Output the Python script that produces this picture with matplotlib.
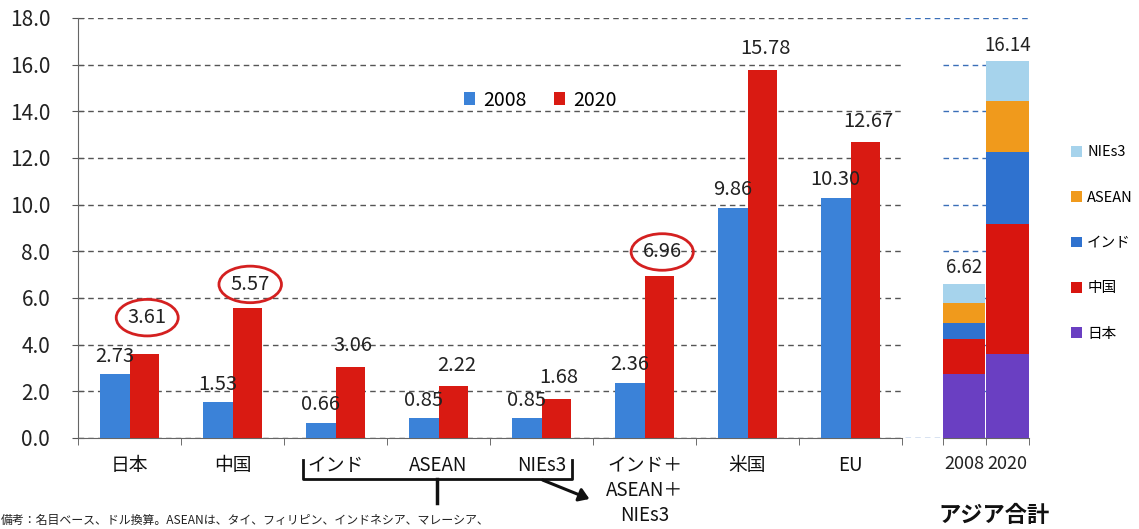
import matplotlib.pyplot as plt
from matplotlib.lines import Line2D
from matplotlib.patches import FancyArrowPatch
import numpy as np

plt.rcParams['font.family'] = ['Noto Sans CJK JP', 'DejaVu Sans']

# data
categories = ["日本", "中国", "インド", "ASEAN", "NIEs3", "インド＋\nASEAN＋\nNIEs3", "米国", "EU"]
v2008 = [2.73, 1.53, 0.66, 0.85, 0.85, 2.36, 9.86, 10.30]
v2020 = [3.61, 5.57, 3.06, 2.22, 1.68, 6.96, 15.78, 12.67]
circled = ["日本", "中国", "インド＋\nASEAN＋\nNIEs3"]

asia_parts = ["日本", "中国", "インド", "ASEAN", "NIEs3"]
asia_2008 = [2.73, 1.53, 0.66, 0.85, 0.85]
asia_2020 = [3.61, 5.57, 3.06, 2.22, 1.68]
asia_years = ["2008", "2020"]
yticks = [0, 2, 4, 6, 8, 10, 12, 14, 16, 18]

BLUE = "#3b82d8"
RED = "#d91a12"
part_colors = ["#6a3fc2", "#d8150f", "#2f72cf", "#f09a1c", "#a6d3ec"]

W, H = 1139, 529
fig = plt.figure(figsize=(W / 100, H / 100), dpi=100)


def box(x0, y0, x1, y1):
    return [x0 / W, 1 - y1 / H, (x1 - x0) / W, (y1 - y0) / H]


def fig_xy(x, y):
    return x / W, 1 - y / H


# ---- main chart
ax = fig.add_axes(box(78, 18, 902, 438))
x = np.arange(len(categories))
bw = 0.29
ax.bar(x - bw / 2, v2008, bw, color=BLUE, label="2008", zorder=3)
ax.bar(x + bw / 2, v2020, bw, color=RED, label="2020", zorder=3)

for i, c in enumerate(categories):
    ax.annotate(f"{v2008[i]:.2f}", (x[i] - bw / 2, v2008[i]), xytext=(0, 13),
                textcoords="offset points", ha="center", va="center",
                fontsize=14.5, color="#222222", zorder=5)
    kw = {}
    dy = 15
    if c in circled:
        kw["bbox"] = dict(boxstyle="ellipse,pad=0.12", fc="none", ec="#d42020", lw=2)
        dy = 17 if v2020[i] > 5 else 26
    ax.annotate(f"{v2020[i]:.2f}", (x[i] + bw / 2, v2020[i]), xytext=(2, dy),
                textcoords="offset points", ha="center", va="center",
                fontsize=14.5, color="#222222", zorder=5, **kw)

ax.set_xlim(-0.5, len(categories) - 0.5)
ax.set_ylim(0, 18)
ax.set_yticks(yticks)
ax.set_yticklabels([f"{t:.1f}" for t in yticks], fontsize=15, color="#222222")
ax.yaxis.grid(True, linestyle=(0, (4, 3)), color="#555555", lw=1)
ax.set_axisbelow(True)
ax.set_xticks(x)
ax.set_xticklabels(categories, fontsize=13.5, color="#111111", va="top", linespacing=1.25)
ax.tick_params(axis="x", length=0, pad=12)
ax.set_xticks(np.arange(-0.5, len(categories)), minor=True)
ax.tick_params(axis="x", which="minor", length=5, color="#555555")
ax.tick_params(axis="y", length=8, direction="inout", color="#555555", pad=16)
for s in ["top", "right"]:
    ax.spines[s].set_visible(False)
for s in ["left", "bottom"]:
    ax.spines[s].set_color("#666666")
ax.legend(loc="center", bbox_to_anchor=fig_xy(540, 100), bbox_transform=fig.transFigure,
          ncol=2, frameon=False, fontsize=14, handlelength=0.6, handleheight=0.6,
          columnspacing=1.4, handletextpad=0.4)

# ---- asia total stacked
ax2 = fig.add_axes(box(905, 18, 1030, 438))
xa = np.arange(len(asia_years))
bottom = np.zeros(2)
for name, a, b, col in zip(asia_parts, asia_2008, asia_2020, part_colors):
    ax2.bar(xa, [a, b], 0.98, bottom=bottom, color=col, label=name, zorder=3)
    bottom += [a, b]
for i, tot in enumerate(bottom):
    ax2.text(xa[i], tot + 0.25, f"{tot:.2f}", ha="center", va="bottom",
             fontsize=13.5, color="#222222")

ax2.set_xlim(-1.37, 1.52)
ax2.set_ylim(0, 18)
for t in yticks:
    x0 = -1.37 if t in (0, 18) else -0.5
    ax2.hlines(t, x0, 1.52, colors="#3a6fb8", linestyles=(0, (4, 3)), lw=1, zorder=1)
ax2.set_yticks([])
ax2.set_xticks(xa)
ax2.set_xticklabels(asia_years, fontsize=13, color="#222222")
ax2.tick_params(axis="x", length=0, pad=12)
ax2.set_xticks([-0.5, 0.5, 1.5], minor=True)
ax2.tick_params(axis="x", which="minor", length=5, color="#555555")
for s in ["top", "right", "left"]:
    ax2.spines[s].set_visible(False)
ax2.spines["bottom"].set_bounds(-0.5, 1.5)
ax2.spines["bottom"].set_color("#666666")
fig.text(*fig_xy(994, 515), "アジア合計", ha="center", va="center",
         fontsize=16, fontweight="bold", color="#111111")

h, l = ax2.get_legend_handles_labels()
fig.legend(h[::-1], l[::-1], loc="center left", bbox_to_anchor=fig_xy(1058, 243),
           frameon=False, fontsize=10.5, handlelength=0.75, handleheight=0.75,
           labelspacing=2.15, handletextpad=0.35)

# ---- bracket and arrow under labels
bx0, bx1, by0, by1 = 303, 572, 460, 479
pts = [(bx0, by0), (bx0, by1), (bx1, by1), (bx1, by0)]
fig.add_artist(Line2D([fig_xy(*p)[0] for p in pts], [fig_xy(*p)[1] for p in pts],
                      color="#111111", lw=2))
fig.add_artist(Line2D([fig_xy(437, by1)[0]] * 2, [fig_xy(437, by1)[1], fig_xy(437, 503)[1]],
                      color="#111111", lw=2.5))
fig.add_artist(FancyArrowPatch(fig_xy(540, by1), fig_xy(592, 500), transform=fig.transFigure,
                               arrowstyle="-|>,head_length=6,head_width=4",
                               color="#111111", lw=2.2))

fig.text(*fig_xy(1, 520), "備考：名目ベース、ドル換算。ASEANは、タイ、フィリピン、インドネシア、マレーシア、",
         ha="left", va="center", fontsize=8.6, color="#222222")

fig.savefig("out.png", dpi=100)
